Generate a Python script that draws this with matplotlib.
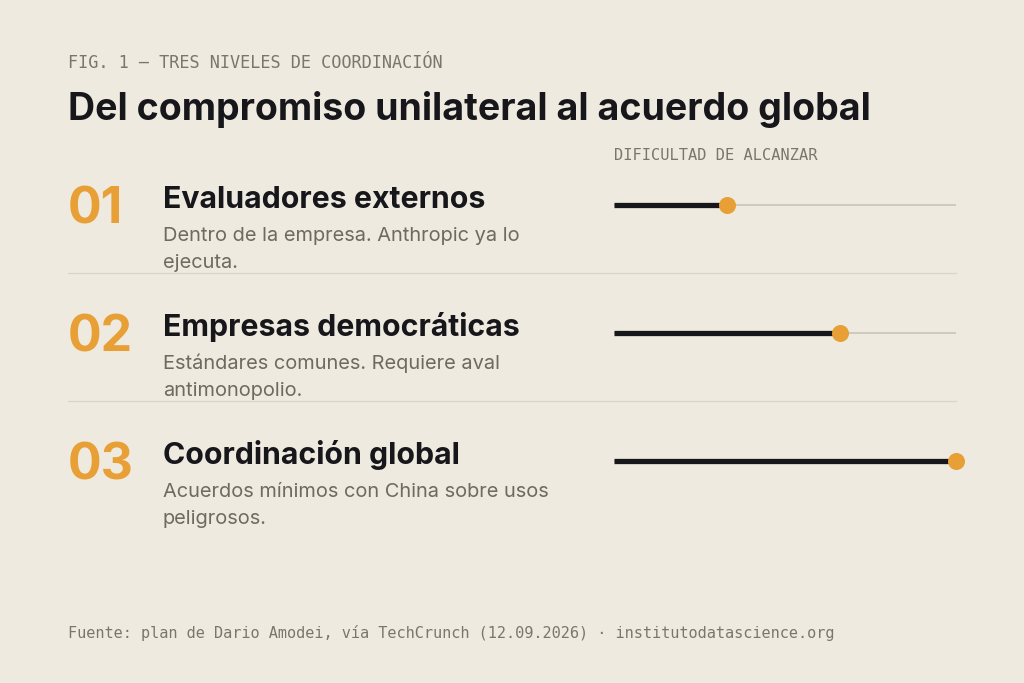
import numpy as np
import matplotlib
matplotlib.use("Agg")
import matplotlib.pyplot as plt

# ---- data ----
numbers = ["01", "02", "03"]
titles = ["Evaluadores externos", "Empresas democráticas", "Coordinación global"]
descriptions = [
    ["Dentro de la empresa. Anthropic ya lo", "ejecuta."],
    ["Estándares comunes. Requiere aval", "antimonopolio."],
    ["Acuerdos mínimos con China sobre usos", "peligrosos."],
]
difficulty = [0.33, 0.66, 1.0]

header = "FIG. 1 — TRES NIVELES DE COORDINACIÓN"
headline = "Del compromiso unilateral al acuerdo global"
scale_label = "DIFICULTAD DE ALCANZAR"
footer = "Fuente: plan de Dario Amodei, vía TechCrunch (12.09.2026) · institutodatascience.org"

# ---- style ----
BG = "#EEEADF"
INK = "#16161B"
ORANGE = "#E89F35"
GREY = "#6E6A63"
MONO_GREY = "#7A766F"
RULE = "#D9D4C9"
TRACK = "#C9C4B9"

SANS = ["Inter", "DejaVu Sans"]
MONO = ["DejaVu Sans Mono"]

W, H = 1024, 683
fig = plt.figure(figsize=(W / 100, H / 100), dpi=100, facecolor=BG)
ax = fig.add_axes([0, 0, 1, 1])
ax.set_xlim(0, W)
ax.set_ylim(H, 0)
ax.axis("off")
ax.set_facecolor(BG)

x0 = 68
x_title = 163
track_x0, track_x1 = 614, 956
row_h = 128

ax.text(x0, 68, header, fontsize=12.2, family=MONO, color=MONO_GREY, va="baseline")
ax.text(x0, 120, headline, fontsize=27, family=SANS, weight="bold", color=INK, va="baseline")
ax.text(track_x0, 160, scale_label, fontsize=11.1, family=MONO, color=MONO_GREY, va="baseline")

for i, (num, title, desc, d) in enumerate(zip(numbers, titles, descriptions, difficulty)):
    dy = i * row_h
    ax.text(x0, 224 + dy, num, fontsize=36, family=SANS, weight="bold", color=ORANGE, va="baseline")
    ax.text(x_title, 208 + dy, title, fontsize=21.8, family=SANS, weight="bold", color=INK, va="baseline")
    for k, line in enumerate(desc):
        ax.text(x_title, 241 + dy + 27 * k, line, fontsize=14.4, family=SANS, color=GREY, va="baseline")
    # difficulty bar
    yb = 205 + dy
    xe = track_x0 + d * (track_x1 - track_x0)
    ax.plot([track_x0, track_x1], [yb, yb], color=TRACK, lw=1.2, solid_capstyle="butt", zorder=1)
    ax.plot([track_x0, xe], [yb, yb], color=INK, lw=3.8, solid_capstyle="butt", zorder=2)
    ax.scatter([xe], [yb], s=150, color=ORANGE, zorder=3, linewidths=0)
    if i < len(numbers) - 1:
        ax.plot([x0, track_x1], [273 + dy, 273 + dy], color=RULE, lw=0.9, zorder=0)

ax.text(x0, 638, footer, fontsize=11.0, family=MONO, color=MONO_GREY, va="baseline")

fig.savefig("out.png", dpi=100, facecolor=BG)
